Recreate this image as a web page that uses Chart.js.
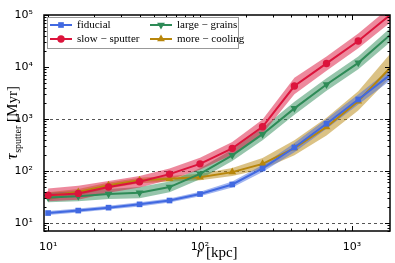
<!DOCTYPE html>
<html>
<head>
<meta charset="utf-8">
<script src="https://cdn.jsdelivr.net/npm/chart.js@4.4.1/dist/chart.umd.min.js"></script>
<style>
  html, body { margin: 0; padding: 0; background: #fff; }
  canvas { display: block; }
</style>
</head>
<body>
<canvas id="sputterChart" width="395" height="263"></canvas>
<script>
// radius [kpc] of each sample
const radius = [10, 15.8, 25, 40, 63, 100, 163, 258, 418, 680, 1100, 2700];

// sputtering times [Myr], middle line and band edges
const fiducial = [15.5, 17.3, 19.7, 22.8, 27, 36, 55, 112, 283, 810, 2370, 18000];
const fiducialLow = [14.2, 15.9, 18.1, 20.8, 24.6, 32.5, 48, 95, 230, 650, 1900, 13500];
const fiducialHigh = [17, 18.9, 21.5, 25, 29.6, 40, 63, 130, 345, 1000, 2950, 24000];

const slowSputter = [34, 37, 49, 62, 87, 137, 272, 707, 4300, 11700, 31600, 270000];
const slowSputterLow = [26, 28, 38, 48, 68, 106, 205, 520, 3000, 8500, 23000, 190000];
const slowSputterHigh = [46, 52, 64, 80, 112, 180, 360, 980, 6200, 16000, 44000, 390000];

const largeGrains = [31, 32.7, 36, 38, 49, 88, 200, 510, 1600, 4600, 12000, 120000];
const largeGrainsLow = [25, 26, 29, 30, 39, 69, 155, 390, 1200, 3500, 9000, 85000];
const largeGrainsHigh = [38, 41, 45, 49, 63, 113, 260, 670, 2150, 6100, 16000, 165000];

const moreCooling = [33, 39.5, 53, 66, 71, 76, 95, 137, 275, 700, 2200, 34000];
const moreCoolingLow = [27.5, 34, 46, 58, 62, 66, 80, 108, 200, 480, 1450, 22000];
const moreCoolingHigh = [39, 45, 60, 74, 80, 88, 114, 178, 390, 1050, 3400, 75000];

const xTicks = [10, 100, 1000];
const xTickLabels = ['10¹', '10²', '10³'];
const yTicks = [10, 100, 1000, 10000, 100000];
const yTickLabels = ['10¹', '10²', '10³', '10⁴', '10⁵'];
const gridValues = [10, 100, 1000];

const seriesNames = ['fiducial', 'slow \u2212 sputter', 'large \u2212 grains', 'more \u2212 cooling'];
const seriesColors = ['rgb(65, 105, 225)', 'rgb(220, 20, 60)', 'rgb(46, 139, 87)', 'rgb(184, 134, 11)'];
const bandColors = ['rgba(65, 105, 225, 0.5)', 'rgba(220, 20, 60, 0.5)', 'rgba(46, 139, 87, 0.5)', 'rgba(184, 134, 11, 0.5)'];
const markers = [
  {style: 'rect', rot: 0, r: 4},
  {style: 'circle', rot: 0, r: 3.7},
  {style: 'triangle', rot: 180, r: 4.5},
  {style: 'triangle', rot: 0, r: 4.5}
];

const mids = [fiducial, slowSputter, largeGrains, moreCooling];
const lows = [fiducialLow, slowSputterLow, largeGrainsLow, moreCoolingLow];
const highs = [fiducialHigh, slowSputterHigh, largeGrainsHigh, moreCoolingHigh];

function toPoints(values) {
  return values.map((v, i) => ({x: radius[i], y: v}));
}

const datasets = [];
mids.forEach((mid, i) => {
  datasets.push({
    data: toPoints(lows[i]),
    borderWidth: 0,
    pointRadius: 0,
    fill: false,
    order: 2
  });
  datasets.push({
    data: toPoints(highs[i]),
    borderWidth: 0,
    pointRadius: 0,
    backgroundColor: bandColors[i],
    fill: '-1',
    order: 2
  });
});
mids.forEach((mid, i) => {
  datasets.push({
    data: toPoints(mid),
    borderColor: seriesColors[i],
    backgroundColor: seriesColors[i],
    borderWidth: 2,
    pointStyle: markers[i].style,
    pointRotation: markers[i].rot,
    pointRadius: markers[i].r,
    pointBorderWidth: 0,
    fill: false,
    order: 1
  });
});

function logSteps(min, max) {
  const out = [];
  for (let e = -1; e <= 6; e++) {
    for (let k = 1; k <= 9; k++) {
      const v = k * Math.pow(10, e);
      if (v >= min && v <= max) out.push({v: v, major: k === 1});
    }
  }
  return out;
}

const framePlugin = {
  id: 'frame',
  beforeDatasetsDraw(chart) {
    const {ctx, chartArea: a} = chart;
    const y = chart.scales.y;
    ctx.save();
    ctx.strokeStyle = '#555';
    ctx.lineWidth = 1;
    ctx.setLineDash([3, 3]);
    gridValues.forEach(v => {
      const py = Math.round(y.getPixelForValue(v)) + 0.5;
      ctx.beginPath();
      ctx.moveTo(a.left, py);
      ctx.lineTo(a.right, py);
      ctx.stroke();
    });
    ctx.restore();
  },
  afterDraw(chart) {
    const {ctx, chartArea: a} = chart;
    const x = chart.scales.x, y = chart.scales.y;
    ctx.save();
    ctx.strokeStyle = '#000';
    ctx.lineWidth = 1;
    logSteps(x.min, x.max).forEach(t => {
      const px = Math.round(x.getPixelForValue(t.v)) + 0.5;
      const len = t.major ? 5 : 2.5;
      ctx.beginPath();
      ctx.moveTo(px, a.bottom); ctx.lineTo(px, a.bottom - len);
      ctx.moveTo(px, a.top); ctx.lineTo(px, a.top + len);
      ctx.stroke();
    });
    logSteps(y.min, y.max).forEach(t => {
      const py = Math.round(y.getPixelForValue(t.v)) + 0.5;
      const len = t.major ? 5 : 2.5;
      ctx.beginPath();
      ctx.moveTo(a.left, py); ctx.lineTo(a.left + len, py);
      ctx.moveTo(a.right, py); ctx.lineTo(a.right - len, py);
      ctx.stroke();
    });
    ctx.lineWidth = 1.5;
    ctx.strokeRect(a.left, a.top, a.right - a.left, a.bottom - a.top);

    // legend
    const lx = 47, ly = 17, lw = 191, lh = 31;
    ctx.fillStyle = '#fff';
    ctx.fillRect(lx, ly, lw, lh);
    ctx.strokeStyle = '#999';
    ctx.lineWidth = 1;
    ctx.strokeRect(lx + 0.5, ly + 0.5, lw, lh);
    ctx.font = '11px "Liberation Serif"';
    ctx.textBaseline = 'middle';
    seriesNames.forEach((name, i) => {
      const cx = lx + 3 + (i < 2 ? 0 : 100);
      const cy = ly + 8 + (i % 2) * 14;
      ctx.strokeStyle = seriesColors[i];
      ctx.lineWidth = 2;
      ctx.beginPath();
      ctx.moveTo(cx, cy); ctx.lineTo(cx + 22, cy);
      ctx.stroke();
      ctx.fillStyle = seriesColors[i];
      Chart.helpers.drawPoint(ctx, {
        pointStyle: markers[i].style,
        rotation: markers[i].rot,
        radius: markers[i].r,
        borderWidth: 0
      }, cx + 11, cy);
      ctx.fillStyle = '#000';
      ctx.fillText(name, cx + 27, cy + 0.5);
    });

    // axis titles
    ctx.fillStyle = '#000';
    ctx.textBaseline = 'alphabetic';
    ctx.font = 'italic 15px "Liberation Serif"';
    const rW = ctx.measureText('r').width;
    ctx.font = '15px "Liberation Serif"';
    const kW = ctx.measureText(' [kpc]').width;
    let tx = (a.left + a.right) / 2 - (rW + kW) / 2;
    ctx.font = 'italic 15px "Liberation Serif"';
    ctx.fillText('r', tx, 257);
    ctx.font = '15px "Liberation Serif"';
    ctx.fillText(' [kpc]', tx + rW, 257);

    ctx.translate(17, (a.top + a.bottom) / 2);
    ctx.rotate(-Math.PI / 2);
    ctx.font = 'italic 17px "Liberation Serif"';
    const tauW = ctx.measureText('\u03c4').width;
    ctx.font = '10px "Liberation Serif"';
    const subW = ctx.measureText('sputter').width;
    ctx.font = '15px "Liberation Serif"';
    const unitW = ctx.measureText(' [Myr]').width;
    let sx = -(tauW + subW + unitW) / 2;
    ctx.font = 'italic 17px "Liberation Serif"';
    ctx.fillText('\u03c4', sx, 0);
    ctx.font = '10px "Liberation Serif"';
    ctx.fillText('sputter', sx + tauW + 0.5, 4);
    ctx.font = '15px "Liberation Serif"';
    ctx.fillText(' [Myr]', sx + tauW + subW + 0.5, 0);
    ctx.restore();
  }
};

new Chart(document.getElementById('sputterChart'), {
  type: 'line',
  data: {datasets: datasets},
  options: {
    responsive: false,
    animation: false,
    layout: {padding: {top: 15, right: 5, left: 0, bottom: 0}},
    plugins: {legend: {display: false}, tooltip: {enabled: false}},
    elements: {line: {tension: 0}},
    scales: {
      x: {
        type: 'logarithmic',
        min: 9.4,
        max: 1780,
        grid: {display: false},
        border: {display: false},
        afterFit: s => { s.height = 32; },
        afterBuildTicks: s => { s.ticks = xTicks.map(v => ({value: v})); },
        ticks: {
          autoSkip: false,
          maxRotation: 0,
          padding: 2,
          color: '#000',
          font: {family: 'DejaVu Sans', size: 11},
          callback: v => xTickLabels[xTicks.indexOf(v)]
        }
      },
      y: {
        type: 'logarithmic',
        min: 7,
        max: 100000,
        grid: {display: false},
        border: {display: false},
        afterFit: s => { s.width = 44; },
        afterBuildTicks: s => { s.ticks = yTicks.map(v => ({value: v})); },
        ticks: {
          autoSkip: false,
          padding: 3,
          color: '#000',
          font: {family: 'DejaVu Sans', size: 11},
          callback: v => yTickLabels[yTicks.indexOf(v)]
        }
      }
    }
  },
  plugins: [framePlugin]
});
</script>
</body>
</html>
